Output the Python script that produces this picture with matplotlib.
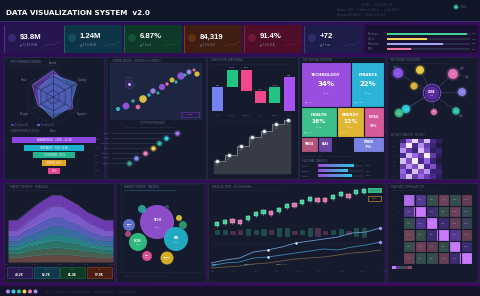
import numpy as np
import matplotlib.pyplot as plt
from matplotlib.patches import Rectangle, Circle
from matplotlib.colors import LinearSegmentedColormap

plt.rcParams['font.family'] = ['DejaVu Sans']

W, H = 480, 296
PANEL = '#151b2c'
EDGE = '#262c48'
MUTED = '#5d6385'

# ---------------- data ----------------
title_text = 'DATA VISUALIZATION SYSTEM  v2.0'

kpi_values = ['$3.8M', '1.24M', '6.87%', '84,319', '91.4%', '+72']
kpi_notes = ['▲ 12.4% MoM', '▲ 8.1% WoW', '▲ 0.6 pts', '▲ 3.2% DoD', '▲ 1.8% SLA', '▲ 9 new']
kpi_colors = ['#25174e', '#0e3447', '#0e3828', '#3f1d12', '#500d28', '#1e1d4a']
kpi_icon = ['#4a3488', '#1c6070', '#1b6444', '#74401c', '#86203e', '#38387c']

goal_names = ['Revenue', 'Users', 'Retention', 'NPS']
goal_values = [0.96, 0.48, 0.68, 0.29]
goal_colors = ['#3fd494', '#f2d45a', '#a2a6f2', '#f27aa6']

radar_axes = ['Speed', 'Quality', 'Support', 'Price', 'Design', 'Scale']
radar_a = [0.95, 0.70, 0.82, 0.58, 0.62, 0.86]
radar_b = [0.80, 0.98, 0.72, 0.76, 0.56, 0.60]

funnel_stages = ['AWARENESS · 100% · 12.4K', 'INTEREST · 71% · 8.8K', 'CONSIDER · 51%',
                 'INTENT 28%', '15%']
funnel_values = [100, 71, 51, 28, 15]
funnel_colors = ['#8c46e2', '#1cb2cc', '#22b48c', '#e2a422', '#e2448e']

scatter_x = [12, 20, 27, 32, 37, 43, 47, 52, 56, 61, 66, 70, 75, 79, 83, 88, 91]
scatter_y = [11, 14, 19, 13, 21, 25, 29, 27, 33, 36, 40, 38, 44, 45, 48, 50, 46]
scatter_s = [9, 24, 6, 11, 30, 6, 15, 5, 20, 6, 13, 5, 28, 5, 13, 5, 14]
scatter_c = ['#2ec8dc', '#9a5ae8', '#2ec0a0', '#ef7ab4', '#ecd048', '#2ec8dc', '#a48cf0',
             '#2ec0a0', '#9a5ae8', '#ef7ab4', '#ecd048', '#2ec8dc', '#9a5ae8', '#2ec0a0',
             '#a48cf0', '#ef7ab4', '#ecd048']

lolli_names = ['Alpha', 'Beta', 'Gamma', 'Delta', 'Omega', 'Sigma', 'Kappa']
lolli_values = [65, 54, 47, 41, 33, 24, 17]
lolli_colors = ['#a074f2', '#32d2e2', '#30c2a0', '#f2d248', '#f284b6', '#8294f2', '#40a692']

wf_labels = ['Start', 'Sales', 'Refund', 'Tax', 'Other', 'Total']
wf_deltas = [240, 170, -210, -120, 160]
wf_total = 340

step_labels = ['Jan', 'Feb', 'Mar', 'Apr', 'May', 'Jun', 'Jul']
step_values = [12, 19, 28, 37, 44, 51, 55]

tree_rows = [
    [('TECHNOLOGY', 34, '#9a4ee0'), ('FINANCE', 22, '#2cb4d8')],
    [('HEALTH', 16, '#3cbf8a'), ('ENERGY', 12, '#e0b632'), ('RETAIL', 9, '#d65a9a')],
    [('MEDIA', 4, '#b2557a'), ('SAAS', 3, '#6b48a6'), ('', 5, None), ('OTHER', 7, '#7c82e2')],
]
prog_names = ['North', 'Central', 'South']
prog_values = [0.80, 0.66, 0.74]

net_x = [432, 398, 420, 414, 453, 462, 406, 399, 434, 456, 462, 467, 395, 461]
net_y = [93, 73, 70, 86, 74, 92, 109, 113, 112, 111, 68, 77, 67, 116]
net_r = [7, 5, 4, 3.5, 5, 4, 4, 4, 3, 3.5, 1.5, 1.5, 1.5, 1.5]
net_c = ['#5a2a9c', '#8a52e6', '#e8c840', '#d8b038', '#e070b8', '#8a80e8', '#30c8d8',
         '#3cc088', '#e070a0', '#30c0b0', '#3a4060', '#3a4060', '#3a4060', '#3a4060']
net_edges = [(0, 1), (0, 2), (0, 3), (0, 4), (0, 5), (0, 6), (0, 7), (0, 8), (0, 9),
             (4, 10), (4, 11), (9, 13), (1, 12), (6, 7)]

act_grid = [
    [0.30, 0.70, 0.95, 0.50, 0.90, 0.40, 0.20],
    [0.60, 1.00, 0.40, 0.80, 0.50, 0.30, 0.10],
    [0.80, 0.50, 0.30, 0.90, 0.60, 0.20, 0.30],
    [0.40, 0.90, 0.70, 0.50, 1.00, 0.50, 0.20],
    [0.90, 0.60, 1.00, 0.40, 0.70, 0.30, 0.10],
    [0.50, 0.80, 0.60, 0.95, 0.40, 0.60, 0.20],
    [0.70, 0.40, 0.90, 0.60, 0.80, 0.30, 0.30],
    [0.60, 0.90, 0.50, 0.70, 0.50, 0.40, 0.20],
]

stream_layers = [
    [4, 4, 5, 6, 7, 7, 7, 7, 6, 5, 5, 4, 4],
    [4, 4, 5, 6, 6, 7, 7, 6, 6, 5, 5, 4, 4],
    [4, 4, 5, 5, 6, 7, 7, 6, 6, 5, 4, 4, 4],
    [4, 4, 5, 5, 6, 7, 7, 6, 6, 5, 4, 4, 4],
    [5, 5, 6, 7, 8, 8, 8, 8, 7, 6, 5, 5, 5],
    [5, 5, 6, 7, 8, 9, 9, 8, 7, 6, 6, 5, 5],
    [6, 6, 7, 9, 10, 11, 11, 10, 9, 8, 7, 6, 6],
    [10, 10, 10, 11, 11, 11, 11, 11, 10, 10, 10, 10, 10],
]
stream_colors = ['#6c4c44', '#4c6854', '#2e7c70', '#2a8c8e', '#3a74aa', '#5c62c4',
                 '#8460d6', '#7440ba']
mini_labels = ['Q1', 'Q2', 'Q3', 'Q4']
mini_values = ['48.2K', '52.7K', '61.3K', '57.9K']
mini_colors = ['#2a1a50', '#10384a', '#0f3a24', '#4c1e12']
mini_edges = ['#5a3a9a', '#1f7088', '#1f7040', '#9a4a20']

bub_x = [157, 176, 138, 129, 147, 167, 142, 179, 183, 128, 167]
bub_y = [222, 239, 242, 225, 256, 258, 209, 218, 225, 234, 207]
bub_r = [17, 12, 9, 6, 5, 6.5, 4, 3, 4, 3, 2]
bub_c = ['#9250d2', '#22b2ca', '#30c282', '#6272d4', '#e05092', '#e2b424', '#2aa4a0',
         '#d8c040', '#2e9a6a', '#b04a7a', '#3a4a70']
bub_lab = ['TECH', 'FIN', 'HLTH', 'ENG', 'RTL', 'MEDIA', '', '', '', '', '']

candle_open = [104, 106, 111, 110, 110, 114, 116, 119, 118, 122, 127, 126, 129, 132, 132,
               131, 134, 136, 136, 137]
candle_close = [108, 110, 107, 106, 114, 118, 120, 115, 122, 126, 123, 130, 133, 128, 128,
                135, 138, 132, 140, 141]
volume = [3, 3, 2, 3, 4, 3, 4, 3, 5, 5, 2, 3, 5, 5, 2, 3, 4, 2, 5, 6]
line_a = [263, 260, 258, 252, 250, 247, 243, 241, 239, 237, 233, 232, 228]
line_b = [266, 263, 262, 258, 257, 255, 253, 251, 249, 250, 247, 245, 242]
line_c = [268, 267, 266, 264, 263, 261, 259, 258, 257, 255, 253, 252, 250]

corr = [
    [0.92, 0.55, 0.05, -0.55, 0.05, -0.35],
    [0.50, 1.00, 0.35, 0.00, -0.55, 0.10],
    [0.05, 0.50, 1.00, 0.30, -0.40, 0.15],
    [-0.60, 0.00, 0.30, 1.00, 0.55, -0.35],
    [0.05, -0.55, -0.40, 0.05, 1.00, 0.30],
    [-0.50, 0.05, 0.05, -0.40, 0.30, 1.00],
]
corr_names = ['A', 'B', 'C', 'D', 'E', 'F']
dot_colors = ['#a58af0', '#30d0e0', '#30c8a0', '#f0d050', '#f080b0', '#a090f0']

# ---------------- figure ----------------
fig = plt.figure(figsize=(W / 100, H / 100), dpi=100)
fig.patch.set_facecolor('#300b54')


def px_axes(x0, y0, x1, y1, **kw):
    ax = fig.add_axes([x0 / W, 1 - y1 / H, (x1 - x0) / W, (y1 - y0) / H], **kw)
    ax.set_facecolor('none')
    return ax


bg = px_axes(0, 0, W, H)
bg.set_xlim(0, W)
bg.set_ylim(H, 0)
bg.axis('off')
grad = np.add.outer(np.linspace(0, 1, 40), np.linspace(0, 0.6, 60))
bg.imshow(grad, extent=(0, W, H, 0), aspect='auto',
          cmap=LinearSegmentedColormap.from_list('g', ['#281050', '#3e0a60']), zorder=0)


def txt(x, y, s, size=2.0, color=MUTED, **kw):
    bg.text(x, y, s, fontsize=size, color=color, va='center', zorder=6, **kw)


# header
bg.add_patch(Rectangle((0, 0), W, 21, fc='#0f1628', ec='none', zorder=1))
bg.plot([0, W], [21, 21], color='#3a3a80', lw=0.6, zorder=2)
txt(6, 13, title_text, 5.2, 'white', fontweight='bold')
txt(362, 5, 'SYNC · 14:32:08 UTC', 2.2, '#3a4060')
txt(337, 10, 'Nodes 128  ·  Latency 42ms  ·  Load 61%', 2.2, '#3a4060')
txt(337, 15, 'Region EU-West  ·  Build 2.0.417', 2.2, '#3a4060')
bg.add_patch(Circle((456, 7), 2.2, fc='#3ad6a4', ec='#1a6050', lw=0.8, zorder=3))
txt(461, 7, 'LIVE', 2.2, '#4a6a70')

# KPI cards
for i, (val, note) in enumerate(zip(kpi_values, kpi_notes)):
    x0 = 4 + i * 60
    bg.add_patch(Rectangle((x0, 25), 58, 28, fc=kpi_colors[i], ec='none', zorder=1))
    bg.plot([x0, x0], [26, 52], color=kpi_icon[i], lw=0.8, zorder=2)
    bg.add_patch(Circle((x0 + 8, 38), 4, fc=kpi_icon[i], ec='none', alpha=0.6, zorder=2))
    txt(x0 + 16, 37, val, 5.6, 'white', fontweight='bold', family='Liberation Sans')
    txt(x0 + 16, 45, note, 1.8, '#8088a8')
    bg.plot([x0 + 40, x0 + 46, x0 + 50, x0 + 56], [46, 44, 45, 41], color=kpi_icon[i],
            lw=0.5, alpha=0.7, zorder=2)

bg.add_patch(Rectangle((365, 25), 113, 28, fc='#1a1232', ec='none', zorder=1))
for i, (name, v, c) in enumerate(zip(goal_names, goal_values, goal_colors)):
    y = 34 + i * 5
    txt(368, y, name, 1.8, '#6a6f90')
    bg.add_patch(Rectangle((387, y - 1), 83, 2, fc='#2a2d48', ec='none', zorder=2))
    bg.add_patch(Rectangle((387, y - 1), 83 * v, 2, fc=c, ec='none', zorder=3))
    txt(472, y, f'{v:.0%}', 1.6, '#6a6f90')

# panels
panel_boxes = [(4, 57, 104, 179), (106, 57, 206, 179), (207, 57, 298, 179),
               (299, 57, 385, 179), (387, 57, 478, 179), (4, 183, 114, 282),
               (116, 183, 206, 282), (208, 183, 385, 282), (387, 183, 478, 282)]
for x0, y0, x1, y1 in panel_boxes:
    bg.add_patch(Rectangle((x0, y0), x1 - x0, y1 - y0, fc=PANEL, ec=EDGE, lw=0.5, zorder=1))
bg.add_patch(Rectangle((0, 286), W, 10, fc='#16142a', ec='none', zorder=1))
for i, c in enumerate(dot_colors):
    bg.add_patch(Circle((8 + i * 5.5, 291.5), 2, fc=c, ec='none', zorder=3))
txt(45, 291.5, 'v2.0 · 9 modules · rendered 60fps · data refresh 5s · © dashboard', 2.0, '#2e3050')

# ---- panel A: radar + funnel
txt(10, 62, 'PERFORMANCE RADAR', 2.0)
bg.plot([10, 60], [64.5, 64.5], color='#232a44', lw=0.4, zorder=2)
rad = px_axes(25, 69, 81, 125, projection='polar')
rad.set_theta_zero_location('N')
rad.set_theta_direction(-1)
ang = np.linspace(0, 2 * np.pi, len(radar_axes), endpoint=False)
angc = np.append(ang, ang[0])
for r in [0.25, 0.5, 0.75, 1.0]:
    rad.plot(angc, [r] * len(angc), color='#232a48', lw=0.4)
for a in ang:
    rad.plot([a, a], [0, 1], color='#232a48', lw=0.4)
rad.fill(angc, radar_a + radar_a[:1], color='#5b3c9c', alpha=0.95, lw=0.6, ec='#7a58c8')
rad.fill(angc, radar_b + radar_b[:1], color='#4a6cc2', alpha=0.72, lw=0.6, ec='#6a8ce0')
for a, name in zip(ang, radar_axes):
    rad.text(a, 1.2, name, fontsize=1.9, color='#7a80a0', ha='center', va='center')
rad.set_ylim(0, 1)
rad.set_xticks([])
rad.set_yticks([])
rad.grid(False)
rad.spines['polar'].set_visible(False)
bg.add_patch(Rectangle((11, 124), 3, 2, fc='#5b3c9c', zorder=3))
txt(15, 125, 'Product A', 1.9)
bg.add_patch(Rectangle((37, 124), 3, 2, fc='#4a6cc2', zorder=3))
txt(41, 125, 'Product B', 1.9)

txt(10, 131, 'CONVERSION FUNNEL', 2.0)
fun = px_axes(8, 133, 100, 176)
fun.axis('off')
for i, (lab, v, c) in enumerate(zip(funnel_stages, funnel_values, funnel_colors)):
    fun.barh(i, v, left=-v / 2, height=0.8, color=c)
    fun.text(0, i, lab, fontsize=1.8, color='white', ha='center', va='center')
    fun.text(55, i, f'{v}%', fontsize=1.6, color='#5a6080', ha='right', va='center')
fun.set_xlim(-55, 55)
fun.set_ylim(4.7, -0.9)

# ---- panel B: scatter + lollipop
txt(112, 60.5, 'CORRELATION · GROWTH vs SPEND', 2.0)
bg.add_patch(Rectangle((110, 63), 91, 56, fc='#1e2540', ec='#2a3152', lw=0.4, zorder=2))
sc = px_axes(110, 63, 201, 119)
sc.axis('off')
sc.scatter(scatter_x, scatter_y, s=scatter_s, c=scatter_c, alpha=0.9, lw=0, zorder=3)
sc.scatter([23], [36], s=40, facecolor='#3a2a60', edgecolor='#5a4a8a', lw=0.4, alpha=0.6)
sc.scatter([23], [36], s=1.5, c='#c0a0ff')
sc.text(23, 42, 'outlier', fontsize=1.6, color='#6a6f90', ha='center')
sc.set_xlim(4, 95)
sc.set_ylim(1, 57)
bg.add_patch(Rectangle((181, 112), 18, 5, fc='#2a1e4a', ec='#6a3ab0', lw=0.4, zorder=3))
txt(183, 114.5, 'r = 0.94', 1.6, '#9a8ad0')
txt(140, 123, 'TOP PERFORMERS', 2.0, '#5d6385')
txt(125, 127.5, 'score index · weekly average · last 30 days', 1.6, '#3e4468')
lol = px_axes(112, 130, 200, 166)
lol.axis('off')
for i, (n, v, c) in enumerate(zip(lolli_names, lolli_values, lolli_colors)):
    lol.plot([0, v], [i, i], color='#2c3350', lw=0.6)
    lol.scatter([v], [i], s=9, color=c, zorder=3, lw=0)
    lol.scatter([v], [i], s=26, color=c, alpha=0.25, zorder=2, lw=0)
    lol.text(-2, i, n, fontsize=1.7, color='#6a6f90', ha='right', va='center')
    lol.text(v + 4, i, str(v), fontsize=1.5, color='#4a5070', va='center')
lol.set_xlim(0, 88)
lol.set_ylim(6.6, -0.6)

# ---- panel C: waterfall + step area
txt(211, 60, 'CASH FLOW WATERFALL', 2.0)
bg.plot([211, 290], [63.5, 63.5], color='#232a44', lw=0.4, zorder=2)
wf = px_axes(210, 62, 297, 118)
wf.axis('off')
wf_cols = ['#7482f2'] + ['#22c484' if d > 0 else '#f0488a' for d in wf_deltas[1:]] + ['#a652f0']
run = 0
for i, lab in enumerate(wf_labels):
    if i == 0:
        bottom, height = 0, wf_deltas[0]
    elif i < len(wf_deltas):
        d = wf_deltas[i]
        bottom, height = (run, d) if d > 0 else (run + d, -d)
    else:
        bottom, height = 0, wf_total
    wf.bar(i, height, bottom=bottom, width=0.78, color=wf_cols[i])
    if i < len(wf_deltas):
        run += wf_deltas[i]
    val = wf_total if i == len(wf_deltas) else wf_deltas[i]
    wf.text(i, bottom + height + 15, f'{val:+d}' if 0 < i < 5 else str(val),
            fontsize=1.6, color='#b0b4d0', ha='center')
    wf.text(i, -45, lab, fontsize=1.6, color='#5a6080', ha='center')
wf.set_xlim(-0.55, 5.55)
wf.set_ylim(-70, 490)
bg.plot([211, 290], [121, 121], color='#232a44', lw=0.4, zorder=2)
st = px_axes(210, 117, 297, 176)
st.axis('off')
xs = np.arange(len(step_values))
st.fill_between(np.append(xs, xs[-1] + 0.5) - 0.3, 0, step_values + step_values[-1:],
                step='post', color='#3a3f4a', alpha=0.9)
st.step(np.append(xs, xs[-1] + 0.5) - 0.3, step_values + step_values[-1:], where='post',
        color='#8a8f9c', lw=0.5)
st.scatter(xs, step_values, s=5, color='white', zorder=3, lw=0)
st.scatter(xs, step_values, s=16, color='white', alpha=0.2, zorder=2, lw=0)
for x, v, lab in zip(xs, step_values, step_labels):
    st.text(x, v - 4, lab, fontsize=1.5, color='#7a7f90', ha='center', va='top')
st.set_xlim(-0.6, 6.8)
st.set_ylim(-3, 58)

# ---- panel D: treemap + progress
txt(303, 60, 'SECTOR ALLOCATION', 2.0)
tm = px_axes(301, 62, 384, 152)
tm.axis('off')
row_tot = [sum(v for _, v, _ in row) for row in tree_rows]
y = 0
for row, rt in zip(tree_rows, row_tot):
    h = rt / sum(row_tot)
    x = 0
    for name, v, c in row:
        w = v / rt
        if c is not None:
            tm.add_patch(Rectangle((x, y), w, h, fc=c, ec=PANEL, lw=0.8))
            cx, cy = x + w / 2, y + h / 2
            if v >= 12:
                tm.text(cx, cy - h * 0.22, name, fontsize=2.8, color='white', ha='center',
                        va='center', fontweight='bold')
                tm.text(cx, cy, f'{v}%', fontsize=5 if v > 20 else 4.2, color='white',
                        ha='center', va='center', fontweight='bold')
                tm.text(cx, cy + h * 0.2, f'${v * 0.12:.1f}B', fontsize=1.6,
                        color='#f0f0f0', ha='center', va='center', alpha=0.8)
                tm.text(x + 0.05 * w + 0.02, y + h - 0.05, f'▲ {v / 8:.1f}%', fontsize=1.6,
                        color='#f0f0f0', va='center', alpha=0.8)
            elif v >= 7:
                tm.text(cx, cy - h * 0.15, name, fontsize=2.0, color='white', ha='center',
                        va='center', fontweight='bold')
                tm.text(cx, cy + h * 0.15, f'{v}%', fontsize=3.2, color='white',
                        ha='center', va='center', fontweight='bold')
            else:
                tm.text(cx, cy, name, fontsize=1.8, color='white', ha='center',
                        va='center', fontweight='bold')
        x += w
    y += h
tm.set_xlim(0, 1)
tm.set_ylim(1, 0)
txt(302, 156, 'Allocation by sector · Q3 · rebalanced weekly', 1.6, '#3e4468')
txt(302, 161, 'REGIONAL TARGETS', 1.8)
for i, (n, v) in enumerate(zip(prog_names, prog_values)):
    yy = 166 + i * 5
    txt(302, yy, n, 1.6, '#6a6f90')
    bg.add_patch(Rectangle((318, yy - 1.2), 45, 2.4, fc='#23283f', ec='none', zorder=2))
    bg.imshow(np.linspace(0, 1, 50)[None, :], extent=(318, 318 + 45 * v, yy + 1.2, yy - 1.2),
              aspect='auto', cmap=LinearSegmentedColormap.from_list('p', ['#9a4ee0', '#2cc8e0']),
              zorder=3)
    txt(366, yy, f'{v:.0%}', 1.6, '#6a6f90')
bg.set_xlim(0, W)
bg.set_ylim(H, 0)

# ---- panel E: network + activity grid
txt(391, 60, 'NETWORK TOPOLOGY', 2.0)
bg.plot([391, 445], [63, 63], color='#232a44', lw=0.4, zorder=2)
net = px_axes(387, 60, 478, 132)
net.axis('off')
for a, b in net_edges:
    net.plot([net_x[a], net_x[b]], [net_y[a], net_y[b]], color='#3a4468', lw=0.4, zorder=1)
for x, y, r, c in zip(net_x, net_y, net_r, net_c):
    net.add_patch(Circle((x, y), r * 1.35, fc=c, ec='none', alpha=0.25, zorder=2))
    net.add_patch(Circle((x, y), r, fc=c, ec='none', zorder=3))
net.add_patch(Circle((net_x[0], net_y[0]), net_r[0] * 1.25, fc='none', ec='#8a52e6', lw=0.6,
                     zorder=4))
net.text(net_x[0], net_y[0] - 1, 'CORE', fontsize=1.8, color='white', ha='center',
         va='center', fontweight='bold', zorder=5)
net.text(net_x[0], net_y[0] + 2, '128', fontsize=1.5, color='#d0c0f0', ha='center',
         va='center', zorder=5)
for x, y, r in zip(net_x[1:10], net_y[1:10], net_r[1:10]):
    net.text(x, y, 'N', fontsize=1.5, color='white', ha='center', va='center', zorder=5)
net.set_xlim(387, 478)
net.set_ylim(132, 60)
net.set_aspect('equal')
txt(391, 135.5, 'ACTIVITY MATRIX · HOURLY', 1.8)
act = px_axes(400, 139, 441, 179)
act.axis('off')
act.imshow(np.array(act_grid), aspect='auto', interpolation='nearest',
           cmap=LinearSegmentedColormap.from_list('a', ['#1e1a40', '#4a2a90', '#9a62e6',
                                                        '#f4eeff']))
for i in range(len(act_grid)):
    txt(393, 141.5 + i * 5, f'{i * 3:02d}h', 1.4, '#4a5070')

# ---- panel F: stream + mini cards
txt(9, 187, 'TRAFFIC DENSITY · STACKED', 2.0)
bg.plot([9, 70], [190, 190], color='#232a44', lw=0.4, zorder=2)
sa = px_axes(8, 192, 113, 265)
sa.axis('off')
sx = np.arange(len(stream_layers[0]))
base = np.zeros(len(sx))
for layer, c in zip(stream_layers, stream_colors):
    top = base + np.array(layer)
    sa.fill_between(sx, base, top, color=c, alpha=0.92, lw=0)
    sa.plot(sx, top, color='white', lw=0.3, alpha=0.18)
    base = top
for x, lab in zip([0, 3, 6, 9, 12], ['00:00', '06:00', '12:00', '18:00', '24:00']):
    sa.text(x, -2.2, lab, fontsize=1.4, color='#4a5070', ha='center', va='top')
sa.set_xlim(0, 12)
sa.set_ylim(-3, 70)
for i, (lab, v) in enumerate(zip(mini_labels, mini_values)):
    x0 = 7 + i * 26.5
    bg.add_patch(Rectangle((x0, 267), 25, 11, fc=mini_colors[i], ec=mini_edges[i], lw=0.4,
                           zorder=2))
    txt(x0 + 12.5, 270, lab, 1.4, '#8a90b0', ha='center')
    txt(x0 + 12.5, 274.5, v, 2.0, 'white', ha='center', fontweight='bold')

# ---- panel G: packed bubbles
txt(124, 187, 'MARKET SHARE · PACKED', 2.0)
bg.plot([124, 175], [189.5, 189.5], color='#1f5a70', lw=0.5, zorder=2)
bg.add_patch(Rectangle((121, 184), 83, 88, fc='none', ec='#232a44', lw=0.4, zorder=2))
bb = px_axes(116, 183, 206, 282)
bb.axis('off')
for x, y, r, c, lab in zip(bub_x, bub_y, bub_r, bub_c, bub_lab):
    bb.add_patch(Circle((x, y), r, fc=c, ec='none', alpha=0.95))
    if lab:
        bb.text(x, y - r * 0.12, lab, fontsize=2.0 if r > 8 else 1.6, color='white',
                ha='center', va='center', fontweight='bold')
        bb.text(x, y + r * 0.3, f'{r * 2:.0f}%', fontsize=1.5, color='#f0f0f0',
                ha='center', va='center')
bb.set_xlim(116, 206)
bb.set_ylim(282, 183)
txt(124, 276, 'bubble area ∝ revenue · 11 segments', 1.6, '#3e4468')

# ---- panel H: candles + lines
txt(212, 187, 'PRICE ACTION · 20 SESSIONS', 2.0)
bg.plot([212, 280], [189.5, 189.5], color='#232a44', lw=0.4, zorder=2)
cd = px_axes(210, 185, 383, 237)
cd.axis('off')
for i, (o, c) in enumerate(zip(candle_open, candle_close)):
    up = c >= o
    col = '#3ee0a0' if up else '#f27ab8'
    cd.bar(i, abs(c - o), bottom=min(o, c), width=0.55, color=col, alpha=0.9,
           edgecolor='#c0ffe8' if up else '#ffd0e8', lw=0.3)
    cd.plot([i, i], [min(o, c) - 1.2, max(o, c) + 1.2], color=col, lw=0.4)
cd.set_xlim(-0.9, 21.45)
cd.set_ylim(93, 145)
bg.add_patch(Rectangle((368, 188), 14, 5, fc='#3ee0a0', ec='none', alpha=0.8, zorder=3))
txt(375, 190.5, 'BUY 4.2', 1.6, '#0a3020', ha='center')
bg.add_patch(Rectangle((368, 196), 13, 4.5, fc='none', ec='#c08a30', lw=0.5, zorder=3))
txt(374.5, 198.2, 'SELL', 1.6, '#c08a30', ha='center')
vo = px_axes(210, 226, 383, 238)
vo.axis('off')
for i, (o, c, v) in enumerate(zip(candle_open, candle_close, volume)):
    col = '#3ee0a0' if c >= o else '#f27ab8'
    vo.bar(i, v, bottom=-v / 2, width=0.55, color=col, alpha=0.25, edgecolor=col, lw=0.4)
vo.set_xlim(-0.9, 21.45)
vo.set_ylim(-4, 4)
bg.plot([212, 380], [243, 243], color='#2a3050', lw=0.4, ls=(0, (2, 2)), zorder=2)
ln = px_axes(210, 225, 383, 272)
ln.axis('off')
lx = np.arange(len(line_a))
ln.plot(lx, line_c, color='#8a6a4c', lw=0.6, alpha=0.8)
ln.plot(lx, line_b, color='#3a86b6', lw=0.6)
ln.plot(lx, line_a, color='#6a9ad6', lw=0.6)
ln.scatter([4, 4, 6], [line_a[4], line_b[4], line_a[6]], s=3, color='white', zorder=3, lw=0)
ln.scatter([12, 12], [line_a[-1], line_b[-1]], s=6, color='#a48cf0', zorder=3, lw=0)
ln.set_xlim(-0.1, 12.2)
ln.set_ylim(272, 225)
for i, lab in enumerate(['Revenue', 'Users', 'Margin']):
    bg.plot([212 + i * 32, 216 + i * 32], [264, 264], color=['#6a9ad6', '#3a86b6', '#8a6a4c'][i],
            lw=0.6, zorder=3)
    txt(217.5 + i * 32, 264, lab, 1.5, '#5a6080')
for i in range(9):
    txt(213 + i * 21.5, 271.5, f'W{i * 3 + 1:02d}', 1.4, '#4a5070', ha='center')

# ---- panel I: correlation matrix
txt(391, 187, 'FEATURE CORRELATION', 2.0)
bg.plot([391, 440], [189.5, 189.5], color='#232a44', lw=0.4, zorder=2)
cm = px_axes(403, 194, 472, 264)
cm.axis('off')
ccmap = LinearSegmentedColormap.from_list(
    'c', [(0, '#8a4a60'), (0.35, '#5e3c52'), (0.52, '#34504a'), (0.65, '#3a2c6e'),
          (0.8, '#5a3c98'), (1, '#c878ff')])
carr = np.array(corr)
cm.imshow(carr, cmap=ccmap, vmin=-1, vmax=1, aspect='auto', interpolation='nearest')
for i in range(carr.shape[0]):
    for j in range(carr.shape[1]):
        cm.add_patch(Rectangle((j - 0.5, i - 0.5), 1, 1, fc='none', ec=PANEL, lw=0.8))
        cm.text(j, i, f'{carr[i, j]:.2f}', fontsize=1.4, color='#d0d0e0', ha='center',
                va='center', alpha=0.7)
for i, n in enumerate(corr_names):
    txt(398, 200 + i * 11.6, n, 1.6, '#4a5070', ha='center')
for i, c in enumerate(['#c878ff', '#5a3c98', '#34504a', '#5e3c52', '#8a4a60']):
    bg.add_patch(Rectangle((392 + i * 4, 266), 3.5, 2.5, fc=c, ec='none', zorder=3))

fig.savefig('out.png', dpi=100, facecolor=fig.get_facecolor())
